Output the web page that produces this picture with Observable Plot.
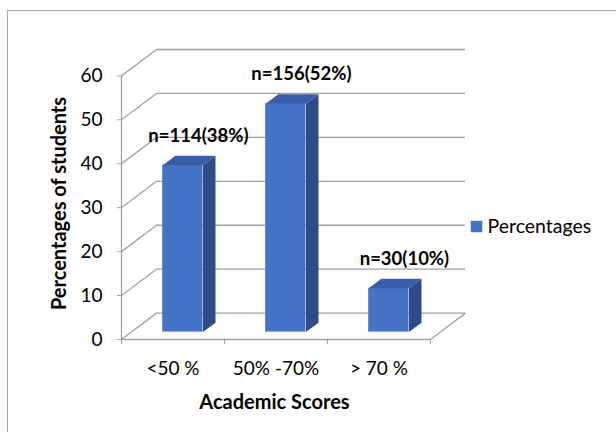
<!DOCTYPE html>
<html>
<head>
<meta charset="utf-8">
<script src="https://cdn.jsdelivr.net/npm/d3@7"></script>
<script src="https://cdn.jsdelivr.net/npm/@observablehq/plot@0.6"></script>
<style>
  html, body { margin: 0; padding: 0; background: #fff; }
  #wrap { position: relative; width: 616px; height: 432px; overflow: hidden; }
  #border { position: absolute; left: 7px; top: 10px; width: 700px; height: 500px;
            border-top: 1.5px solid #a6a6a6; border-left: 1.5px solid #a6a6a6; pointer-events: none; }
</style>
</head>
<body>
<div id="wrap"><div id="border"></div></div>
<script>
// ---- data ----
const categories = ["<50 %", "50% -70%", "> 70 %"];
const percentages = [38, 52, 10];
const dataLabels = ["n=114(38%)", "n=156(52%)", "n=30(10%)"];
const yTicks = [0, 10, 20, 30, 40, 50, 60];
const seriesName = "Percentages";
const xTitle = "Academic Scores";
const yTitle = "Percentages of students";

// ---- 3D geometry (in scale units) ----
const DX = 0.34, DY = 6;          // wall depth
const f0 = 0.28, f1 = 0.64;       // bar front/back depth fraction
const hw = 0.195;                 // half bar width
const n = categories.length;
const yMax = d3.max(yTicks);

const frontColor = "#4472C4", sideColor = "#2E4C8A", topColor = "#3A5DAA";
const gridColor = "#a0a0a0";
const font = "Lato, 'Open Sans', sans-serif";

const bars = categories.map((c, i) => {
  const xc = i + 0.5;
  const x1 = xc - hw + f0 * DX, x2 = xc + hw + f0 * DX;
  const y1 = f0 * DY, y2 = percentages[i] + f0 * DY;
  return {c, i, v: percentages[i], label: dataLabels[i], xc, x1, x2, y1, y2};
});
const ddx = (f1 - f0) * DX, ddy = (f1 - f0) * DY;
const sidePts = bars.flatMap(b => [
  {id: b.i, x: b.x2, y: b.y1}, {id: b.i, x: b.x2 + ddx, y: b.y1 + ddy},
  {id: b.i, x: b.x2 + ddx, y: b.y2 + ddy}, {id: b.i, x: b.x2, y: b.y2}
]);
const topPts = bars.flatMap(b => [
  {id: b.i, x: b.x1, y: b.y2}, {id: b.i, x: b.x2, y: b.y2},
  {id: b.i, x: b.x2 + ddx, y: b.y2 + ddy}, {id: b.i, x: b.x1 + ddx, y: b.y2 + ddy}
]);

const chart = Plot.plot({
  width: 616,
  height: 432,
  marginLeft: 121,
  marginRight: 151,
  marginTop: 49,
  marginBottom: 93,
  style: {fontFamily: font, background: "transparent", color: "#000"},
  x: {type: "linear", domain: [0, n + DX], axis: null},
  y: {type: "linear", domain: [0, yMax + DY], axis: null},
  marks: [
    // back wall gridlines
    Plot.ruleY(yTicks, {y: d => d + DY, x1: () => DX, x2: () => n + DX, stroke: gridColor, strokeWidth: 1.3}),
    // side wall diagonals
    Plot.link(yTicks, {x1: () => 0, y1: d => d, x2: () => DX, y2: d => d + DY, stroke: gridColor, strokeWidth: 1.3}),
    // floor right diagonal and front floor edge
    Plot.link([n], {x1: d => d, y1: () => 0, x2: d => d + DX, y2: () => DY, stroke: gridColor, strokeWidth: 1.3}),
    Plot.ruleY([0], {x1: () => 0, x2: () => n, stroke: gridColor, strokeWidth: 1.3}),
    // front y axis line
    Plot.ruleX([0], {y1: () => 0, y2: () => yMax, stroke: gridColor, strokeWidth: 1.3}),
    Plot.axisY({ticks: yTicks, tickSize: 4, tickPadding: 15, fontSize: 19, stroke: gridColor, label: null, tickFormat: d => String(d)}),
    Plot.axisX({ticks: d3.range(n + 1), tickSize: 5, tickFormat: () => "", stroke: gridColor, label: null}),
    // bars
    Plot.rect(bars, {x1: "x1", x2: "x2", y1: "y1", y2: "y2", fill: frontColor}),
    Plot.line(sidePts, {x: "x", y: "y", z: "id", fill: sideColor, stroke: "none"}),
    Plot.line(topPts, {x: "x", y: "y", z: "id", fill: topColor, stroke: "none"}),
    // data labels
    Plot.text(bars, {x: b => b.xc + f1 * DX, y: b => b.y2 + ddy, text: "label", dy: -20, dx: 3, fontSize: 18.5, fontWeight: "bold", fill: "#000"}),
    // category labels
    Plot.text(bars, {x: "xc", y: () => 0, text: "c", dy: 29, fontSize: 19, fill: "#000"}),
    // axis titles
    Plot.text([xTitle], {frameAnchor: "bottom", text: d => d, textAnchor: "middle", lineAnchor: "middle", dx: -19, dy: 63, fontSize: 20, fontWeight: "bold", fill: "#000"}),
    Plot.text([yTitle], {frameAnchor: "left", text: d => d, textAnchor: "middle", lineAnchor: "middle", rotate: -90, dx: -62, dy: 9, fontSize: 20, fontWeight: "bold", fill: "#000"}),
    // legend
    Plot.dot([seriesName], {frameAnchor: "right", symbol: "square", r: 6.5, dx: 11, dy: 32, fill: frontColor, stroke: "none"}),
    Plot.text([seriesName], {frameAnchor: "right", text: d => d, textAnchor: "start", lineAnchor: "middle", dx: 22, dy: 32, fontSize: 19.5, fill: "#000"})
  ]
});
document.getElementById("wrap").prepend(chart);
</script>
</body>
</html>
